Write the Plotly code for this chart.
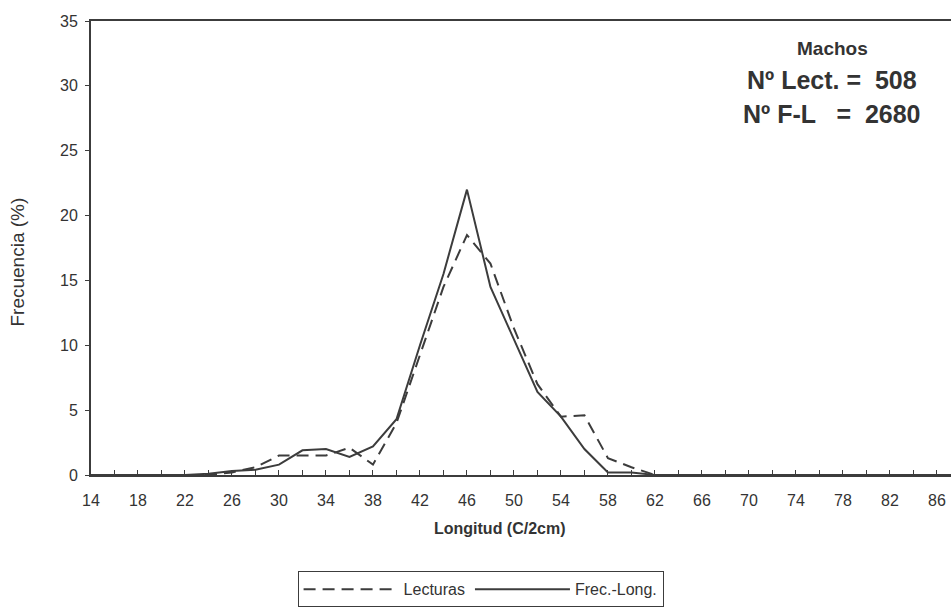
import plotly.graph_objects as go

# Length classes (C/2cm) and frequency (%) for each method
longitud = list(range(14, 90, 2))

lecturas = [0, 0, 0, 0, 0, 0, 0.2, 0.6, 1.5, 1.5, 1.5, 2.1, 0.8, 4.0,
            9.2, 14.5, 18.5, 16.3, 11.3, 7.0, 4.5, 4.6, 1.3, 0.6, 0,
            0, 0, 0, 0, 0, 0, 0, 0, 0, 0, 0, 0, 0]
frec_long = [0, 0, 0, 0, 0, 0.1, 0.3, 0.4, 0.8, 1.9, 2.0, 1.4, 2.2, 4.3,
             10.0, 15.5, 22.0, 14.5, 10.5, 6.4, 4.5, 2.0, 0.2, 0.2, 0,
             0, 0, 0, 0, 0, 0, 0, 0, 0, 0, 0, 0, 0]

x_ticks = list(range(14, 90, 4))
y_ticks = list(range(0, 40, 5))

ink = "#3c3c3c"
text_col = "#333333"
font_family = "Liberation Sans, Arial, sans-serif"

fig = go.Figure()
fig.add_trace(go.Scatter(
    x=longitud, y=lecturas, mode="lines", name="Lecturas",
    line=dict(color=ink, width=2, dash="12px,7px"),
))
fig.add_trace(go.Scatter(
    x=longitud, y=frec_long, mode="lines", name="Frec.-Long.",
    line=dict(color=ink, width=2),
))

# Sample summary in the upper right corner
annot_lines = [
    ("<b>Machos</b>", 19, 0.940),
    ("<b>Nº Lect. =  508</b>", 25, 0.869),
    ("<b>Nº F-L   =  2680</b>", 25, 0.795),
]
for txt, size, ypos in annot_lines:
    fig.add_annotation(
        text=txt, x=0.862, y=ypos, xref="paper", yref="paper",
        showarrow=False, xanchor="center", yanchor="middle",
        font=dict(size=size, color=text_col, family=font_family),
    )

# Axis titles
fig.add_annotation(
    text="<b>Longitud (C/2cm)</b>", x=0.475, y=-0.118, xref="paper",
    yref="paper", showarrow=False, xanchor="center", yanchor="middle",
    font=dict(size=16, color=text_col, family=font_family),
)
fig.add_annotation(
    text="Frecuencia (%)", x=-0.085, y=0.47, xref="paper",
    yref="paper", showarrow=False, xanchor="center", yanchor="middle",
    textangle=-90,
    font=dict(size=19, color=text_col, family=font_family),
)

fig.update_layout(
    width=951, height=608,
    margin=dict(l=91, r=0, t=21, b=133),
    paper_bgcolor="white", plot_bgcolor="white",
    font=dict(family=font_family, color=text_col, size=16),
    showlegend=True,
    legend=dict(
        orientation="h", x=0.453, y=-0.212, xanchor="center", yanchor="top",
        bordercolor=ink, borderwidth=1, bgcolor="white",
        font=dict(size=16, color=text_col), itemwidth=95,
    ),
    xaxis=dict(
        range=[14, 87.2], tickmode="array", tickvals=x_ticks,
        ticks="inside", ticklen=5, tickcolor=ink, tickwidth=1,
        minor=dict(dtick=2, tick0=14, ticks="inside", ticklen=5,
                   tickcolor=ink, showgrid=False),
        showline=True, linecolor=ink, linewidth=2, mirror=True,
        showgrid=False, zeroline=False, ticklabelstandoff=10,
        tickfont=dict(size=16, color=text_col),
    ),
    yaxis=dict(
        range=[0, 35], tickmode="array", tickvals=y_ticks,
        ticks="outside", ticklen=4, tickcolor=ink,
        showline=True, linecolor=ink, linewidth=2,
        showgrid=False, zeroline=False, ticklabelstandoff=4,
        tickfont=dict(size=16, color=text_col),
    ),
)

fig.write_html("out.html")
